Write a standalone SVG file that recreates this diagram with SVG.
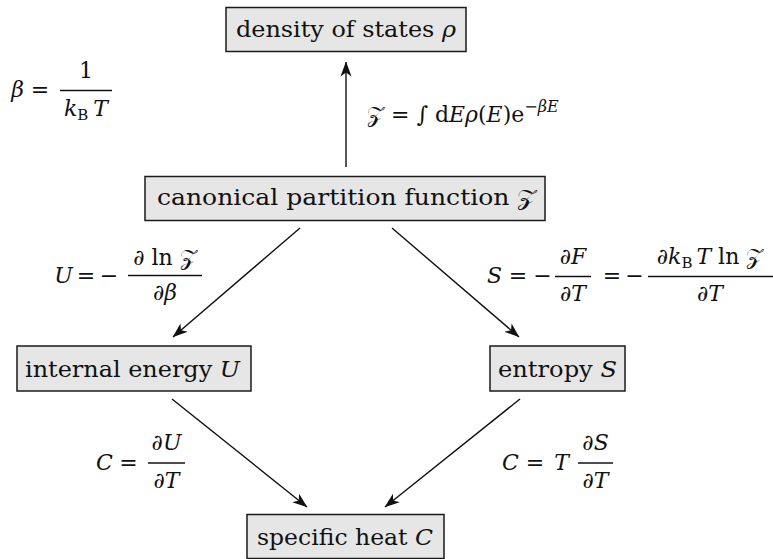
<svg xmlns="http://www.w3.org/2000/svg" width="773" height="559" viewBox="0 0 773 559">
<style>
.box{fill:#e6e6e6;stroke:#1a1a1a;stroke-width:1.5}
.t{font-family:"DejaVu Serif","Liberation Serif",serif;font-size:22px;fill:#111}
.n{font-size:23px;text-anchor:middle}
.i{font-style:italic}
.c{text-anchor:middle}
.sub{font-size:15px;font-style:normal}
.sup{font-size:16px}
.z{font-family:"DejaVu Sans","Noto Sans","DejaVu Serif",serif;font-style:normal}
.bar{stroke:#111;stroke-width:1.4}
.conn line{stroke:#111;stroke-width:1.4;marker-end:url(#ah)}
</style>
<defs>
<marker id="ah" markerUnits="userSpaceOnUse" markerWidth="16" markerHeight="12" refX="14.5" refY="6" orient="auto">
<path d="M0,0.5 L15,6 L0,11.5 L4,6 Z" fill="#111"/>
</marker>
</defs>
<g id="connectors" class="conn">
<line x1="346" y1="167" x2="346" y2="62"/>
<line x1="300" y1="228" x2="173" y2="337"/>
<line x1="392" y1="228" x2="519" y2="337"/>
<line x1="172" y1="399" x2="307" y2="507"/>
<line x1="520" y1="399" x2="385" y2="507"/>
</g>
<g id="dos">
<rect class="box" x="226" y="7.5" width="240" height="44"/>
<text class="t n" x="346" y="37" textLength="220" lengthAdjust="spacingAndGlyphs">density of states <tspan class="i">ρ</tspan></text>
</g>
<g id="partition">
<rect class="box" x="145" y="176.5" width="400" height="44"/>
<text class="t n" x="347" y="205" textLength="380" lengthAdjust="spacingAndGlyphs">canonical partition function <tspan class="z i">𝒵</tspan></text>
</g>
<g id="energy">
<rect class="box" x="17" y="346" width="234" height="45"/>
<text class="t n" x="132.5" y="377" textLength="215" lengthAdjust="spacingAndGlyphs">internal energy <tspan class="i">U</tspan></text>
</g>
<g id="entropy">
<rect class="box" x="490" y="346" width="135" height="45"/>
<text class="t n" x="557.5" y="377" textLength="119" lengthAdjust="spacingAndGlyphs">entropy <tspan class="i">S</tspan></text>
</g>
<g id="heat">
<rect class="box" x="247" y="514.5" width="197" height="44"/>
<text class="t n" x="345" y="545" textLength="176" lengthAdjust="spacingAndGlyphs">specific heat <tspan class="i">C</tspan></text>
</g>
<g id="beta-label">
<text class="t i c" x="17.5" y="97">β</text>
<text class="t c" x="40" y="97">=</text>
<line class="bar" x1="60" y1="90.5" x2="112" y2="90.5"/>
<text class="t c" x="86" y="78">1</text>
<text class="t c" x="86" y="116"><tspan class="i">k</tspan><tspan class="sub" dy="4">B</tspan><tspan class="i" dx="5" dy="-4">T</tspan></text>
</g>
<g id="z-label">
<text class="t" x="367" y="122" font-size="23"><tspan class="z i">𝒵</tspan> = ∫ d<tspan class="i">E</tspan><tspan class="i">ρ</tspan>(<tspan class="i">E</tspan>)e<tspan class="sup" dy="-10">−<tspan class="i">βE</tspan></tspan></text>
</g>
<g id="u-label">
<text class="t i c" x="63.5" y="283">U</text>
<text class="t c" x="86" y="283">=</text>
<text class="t c" x="109" y="283">−</text>
<line class="bar" x1="128" y1="275.5" x2="202" y2="275.5"/>
<text class="t c" x="165" y="265">∂ ln <tspan class="z i">𝒵</tspan></text>
<text class="t c" x="165" y="300">∂<tspan class="i">β</tspan></text>
</g>
<g id="s-label">
<text class="t i c" x="494.5" y="283">S</text>
<text class="t c" x="518" y="283">=</text>
<text class="t c" x="542.5" y="283">−</text>
<line class="bar" x1="555" y1="276.5" x2="591" y2="276.5"/>
<text class="t c" x="573" y="264">∂<tspan class="i">F</tspan></text>
<text class="t c" x="573" y="301">∂<tspan class="i">T</tspan></text>
<text class="t c" x="612" y="283">=</text>
<text class="t c" x="634.5" y="283">−</text>
<line class="bar" x1="648" y1="276.5" x2="773" y2="276.5"/>
<text class="t c" x="710" y="264">∂<tspan class="i">k</tspan><tspan class="sub" dy="4">B</tspan><tspan class="i" dx="4" dy="-4">T</tspan> ln <tspan class="z i">𝒵</tspan></text>
<text class="t c" x="710" y="301">∂<tspan class="i">T</tspan></text>
</g>
<g id="cu-label">
<text class="t i c" x="104.5" y="470">C</text>
<text class="t c" x="128.5" y="470">=</text>
<line class="bar" x1="148" y1="463" x2="185" y2="463"/>
<text class="t c" x="166.5" y="450">∂<tspan class="i">U</tspan></text>
<text class="t c" x="166.5" y="488">∂<tspan class="i">T</tspan></text>
</g>
<g id="cs-label">
<text class="t i c" x="510.5" y="470">C</text>
<text class="t c" x="535" y="470">=</text>
<text class="t i c" x="561.5" y="470">T</text>
<line class="bar" x1="578" y1="463" x2="613" y2="463"/>
<text class="t c" x="595.5" y="450">∂<tspan class="i">S</tspan></text>
<text class="t c" x="595.5" y="488">∂<tspan class="i">T</tspan></text>
</g>
</svg>
